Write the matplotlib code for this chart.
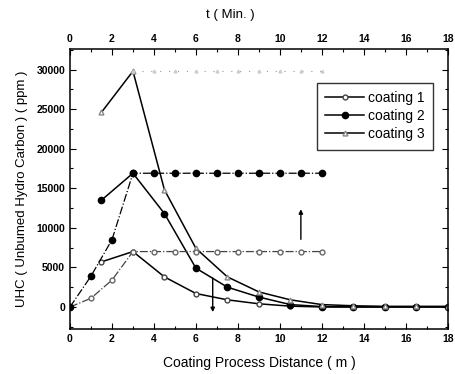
import matplotlib
matplotlib.use('Agg')
import matplotlib.pyplot as plt
from matplotlib.ticker import MultipleLocator

plt.rcParams['font.family'] = ['Liberation Sans', 'DejaVu Sans']

# distance curves (bottom axis, m)
dist = [1.5, 3, 4.5, 6, 7.5, 9, 10.5, 12, 13.5, 15, 16.5, 18]
c1_dist = [5700, 7000, 3800, 1700, 900, 400, 100, 0, 0, 0, 0, 0]
c2_dist = [13500, 16900, 11800, 4900, 2500, 1250, 300, 50, 0, 0, 0, 0]
c3_dist = [24600, 29800, 14800, 7400, 3800, 1900, 900, 300, 150, 80, 80, 80]

# time curves (top axis, min)
t = [0, 1, 2, 3, 4, 5, 6, 7, 8, 9, 10, 11, 12]
c1_time = [0, 1100, 3400, 7000, 7000, 7000, 7000, 7000, 7000, 7000, 7000, 7000, 7000]
c2_time = [0, 3900, 8500, 16900, 16900, 16900, 16900, 16900, 16900, 16900, 16900, 16900, 16900]
t3 = [3, 4, 5, 6, 7, 8, 9, 10, 11, 12]
c3_time = [29800] * 10

labels = ['coating 1', 'coating 2', 'coating 3']

fig = plt.figure(figsize=(4.56, 3.74), dpi=100)
ax = fig.add_axes([0.1535, 0.12, 0.8285, 0.749])

ax.plot(dist, c1_dist, '-', color='black', lw=1.1, marker='o', ms=3.5,
        mfc='white', mec='#444444', label=labels[0])
ax.plot(dist, c2_dist, '-', color='black', lw=1.1, marker='o', ms=4.5,
        mfc='black', mec='black', label=labels[1])
ax.plot(dist, c3_dist, '-', color='black', lw=1.1, marker='^', ms=3.5,
        mfc='white', mec='#888888', label=labels[2])

ax.plot(t, c1_time, linestyle='-.', color='#444444', lw=0.9, marker='o', ms=3.5,
        mfc='white', mec='#666666')
ax.plot(t, c2_time, linestyle='-.', color='black', lw=0.9, marker='o', ms=4.5,
        mfc='black', mec='black')
ax.plot(t3, c3_time, linestyle=(0, (1, 7)), color='#999999', lw=0.8,
        marker='^', ms=2, mfc='white', mec='#cccccc')

ax.annotate('', xy=(11, 12700), xytext=(11, 8200),
            arrowprops=dict(arrowstyle='-|>', color='black', lw=1.0,
                            mutation_scale=6))
ax.annotate('', xy=(6.8, -1000), xytext=(6.8, 4000),
            arrowprops=dict(arrowstyle='-|>', color='black', lw=1.0,
                            mutation_scale=6))

ax.set_xlim(0, 18)
ax.set_ylim(-2800, 32600)
ax.xaxis.set_major_locator(MultipleLocator(2))
ax.xaxis.set_minor_locator(MultipleLocator(1))
ax.yaxis.set_major_locator(MultipleLocator(5000))
ax.yaxis.set_minor_locator(MultipleLocator(2500))
ax.tick_params(which='both', direction='in', top=True, right=True,
               labelsize=7.5, width=0.8)
ax.tick_params(which='major', length=4)
ax.tick_params(which='minor', length=2)
ax.tick_params(labeltop=True)
for lab in ax.get_xticklabels() + ax.get_yticklabels():
    lab.set_fontweight('bold')
for sp in ax.spines.values():
    sp.set_linewidth(1.1)

ax.set_xlabel('Coating Process Distance ( m )', fontsize=10, labelpad=9)
ax.set_ylabel('UHC ( Unbumed Hydro Carbon ) ( ppm )', fontsize=9.5, labelpad=6)
fig.text(0.505, 0.96, 't ( Min. )', ha='center', va='center', fontsize=9.5)

leg = ax.legend(loc='upper left', bbox_to_anchor=(0.635, 0.905), fontsize=10,
                frameon=True, fancybox=False, edgecolor='black',
                handlelength=2.8, handletextpad=0.3, borderpad=0.6,
                labelspacing=0.3)
leg.get_frame().set_linewidth(1.0)

fig.savefig('out.png', dpi=100)
